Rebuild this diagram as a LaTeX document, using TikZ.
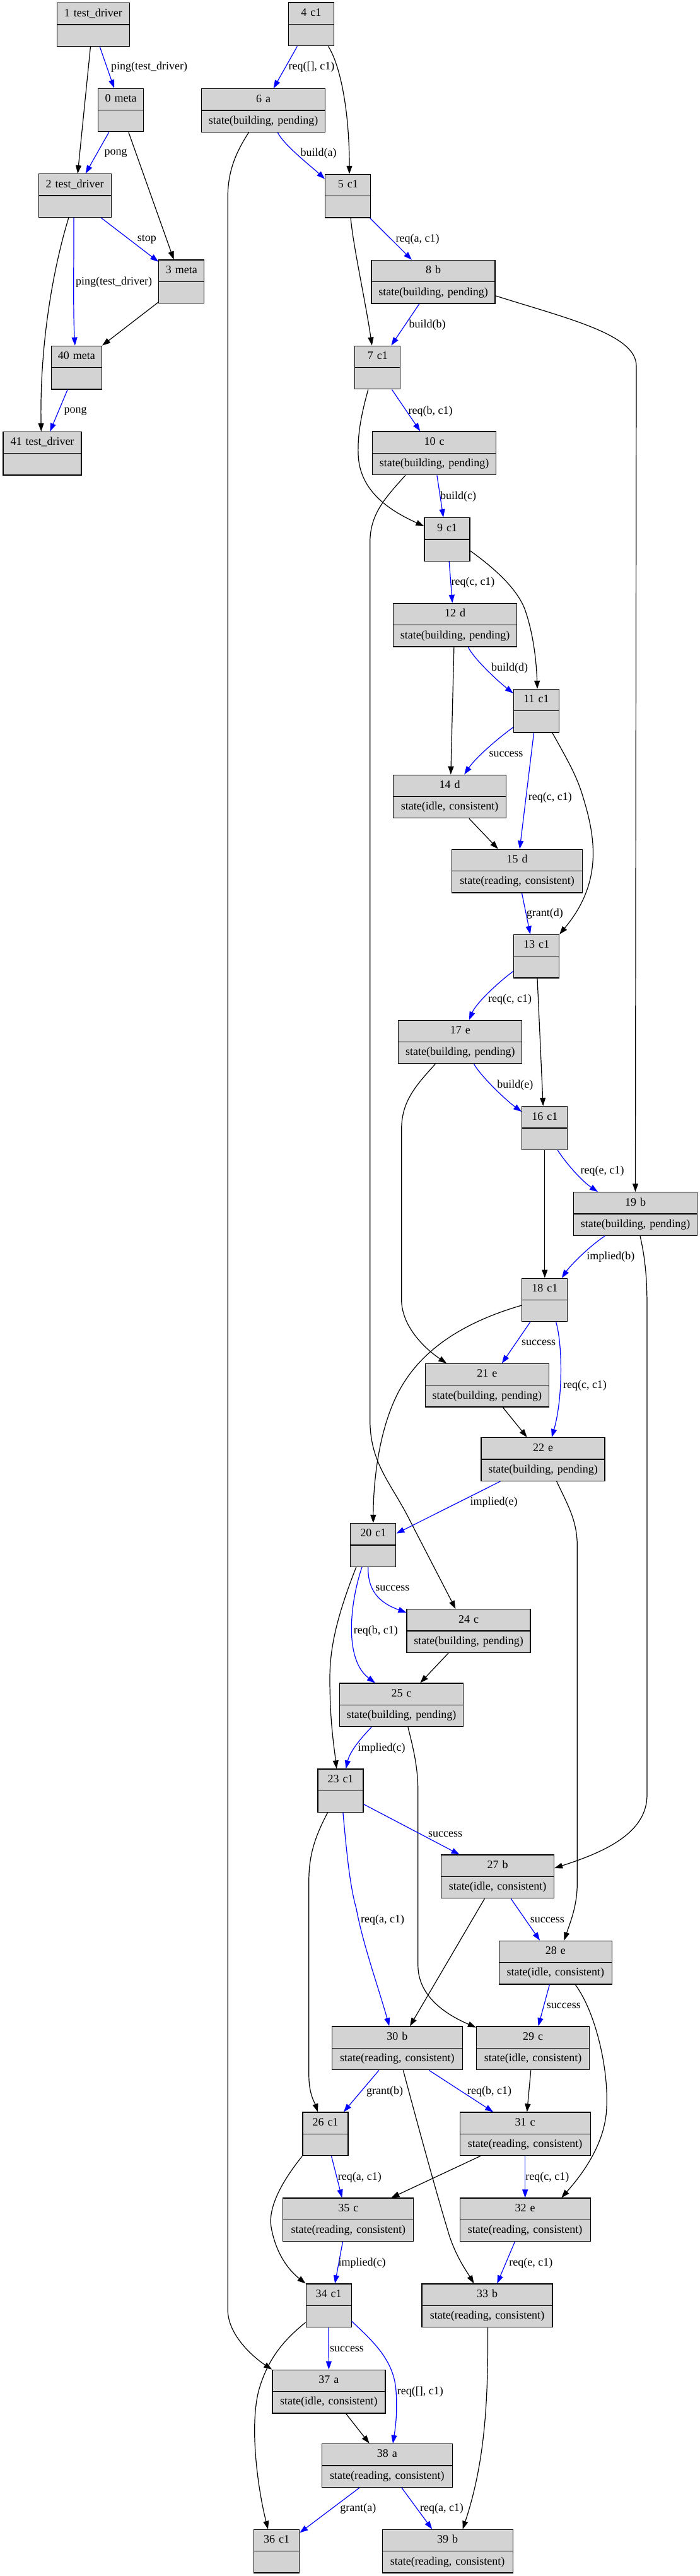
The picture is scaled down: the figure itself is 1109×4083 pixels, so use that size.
\documentclass[tikz,border=0pt]{standalone}
\usepackage{fontspec}
\setmainfont{Liberation Serif}
\usetikzlibrary{shapes.multipart,arrows.meta}
\definecolor{lgray}{HTML}{D3D3D3}
\tikzset{
  rec/.style={draw=black, line width=1.3pt, fill=lgray, rectangle split, rectangle split parts=2,
    inner xsep=0pt, inner ysep=6pt, align=center, font=\fontsize{18}{21}\selectfont},
  wc/.style={rec, text width=72pt},
  wb/.style={rec, text width=196pt},
  wi/.style={rec, text width=179pt},
  wr/.style={rec, text width=207pt},
  edk/.style={line width=1.2pt, draw=black, -{Triangle[length=13pt,width=9pt]}},
  edb/.style={edk, draw=blue},
  lbl/.style={font=\fontsize{18}{21}\selectfont, inner sep=0pt}
}
\begin{document}
\begin{tikzpicture}[x=1pt,y=-1pt]
\useasboundingbox (0,0) rectangle (1109,4083);
% ---------- left graph ----------
\node[rec, text width=115pt] (n1) at (147.8,39) {\strut 1 test\_driver\nodepart{two}\strut};
\node[wc] (n0) at (191.7,174.5) {\strut 0 meta\nodepart{two}\strut};
\node[rec, text width=115pt] (n2) at (118.7,310) {\strut 2 test\_driver\nodepart{two}\strut};
\node[wc] (n3) at (287.8,446.4) {\strut 3 meta\nodepart{two}\strut};
\node[rec, text width=80pt] (n40) at (121.4,582.6) {\strut 40 meta\nodepart{two}\strut};
\node[rec, text width=124pt] (n41) at (67,718.8) {\strut 41 test\_driver\nodepart{two}\strut};
% ---------- main graph ----------
\node[wc] (n4) at (493.4,38.4) {\strut 4 c1\nodepart{two}\strut};
\node[wb] (n6) at (417.6,175) {\strut 6 a\nodepart{two}\strut state(building, pending)};
\node[wc] (n5) at (551.8,310.7) {\strut 5 c1\nodepart{two}\strut};
\node[wb] (n8) at (687,446.8) {\strut 8 b\nodepart{two}\strut state(building, pending)};
\node[wc] (n7) at (598.8,582.5) {\strut 7 c1\nodepart{two}\strut};
\node[wb] (n10) at (688.5,718.4) {\strut 10 c\nodepart{two}\strut state(building, pending)};
\node[wc] (n9) at (709,855) {\strut 9 c1\nodepart{two}\strut};
\node[wb] (n12) at (721.7,990.7) {\strut 12 d\nodepart{two}\strut state(building, pending)};
\node[wc] (n11) at (850.5,1126.8) {\strut 11 c1\nodepart{two}\strut};
\node[wi] (n14) at (713,1262.5) {\strut 14 d\nodepart{two}\strut state(idle, consistent)};
\node[wr] (n15) at (820.1,1380.6) {\strut 15 d\nodepart{two}\strut state(reading, consistent)};
\node[wc] (n13) at (850.5,1515.8) {\strut 13 c1\nodepart{two}\strut};
\node[wb] (n17) at (729.8,1651.5) {\strut 17 e\nodepart{two}\strut state(building, pending)};
\node[wc] (n16) at (863.8,1788) {\strut 16 c1\nodepart{two}\strut};
\node[wb] (n19) at (1007.5,1924) {\strut 19 b\nodepart{two}\strut state(building, pending)};
\node[wc] (n18) at (863.8,2060.5) {\strut 18 c1\nodepart{two}\strut};
\node[wb] (n21) at (772.4,2195.8) {\strut 21 e\nodepart{two}\strut state(building, pending)};
\node[wb] (n22) at (861,2313) {\strut 22 e\nodepart{two}\strut state(building, pending)};
\node[wc] (n20) at (591.8,2448.9) {\strut 20 c1\nodepart{two}\strut};
\node[wb] (n24) at (743.1,2585) {\strut 24 c\nodepart{two}\strut state(building, pending)};
\node[wb] (n25) at (636.5,2702.4) {\strut 25 c\nodepart{two}\strut state(building, pending)};
\node[wc] (n23) at (540,2838.3) {\strut 23 c1\nodepart{two}\strut};
\node[wi] (n27) at (789,2974.4) {\strut 27 b\nodepart{two}\strut state(idle, consistent)};
\node[wi] (n28) at (880.9,3110.6) {\strut 28 e\nodepart{two}\strut state(idle, consistent)};
\node[wr] (n30) at (629.8,3246.3) {\strut 30 b\nodepart{two}\strut state(reading, consistent)};
\node[wi] (n29) at (845.1,3246.3) {\strut 29 c\nodepart{two}\strut state(idle, consistent)};
\node[wc] (n26) at (516,3382.4) {\strut 26 c1\nodepart{two}\strut};
\node[wr] (n31) at (832.7,3382.4) {\strut 31 c\nodepart{two}\strut state(reading, consistent)};
\node[wr] (n35) at (552.3,3518.4) {\strut 35 c\nodepart{two}\strut state(reading, consistent)};
\node[wr] (n32) at (832.7,3518.4) {\strut 32 e\nodepart{two}\strut state(reading, consistent)};
\node[wc] (n34) at (521.2,3654.3) {\strut 34 c1\nodepart{two}\strut};
\node[wr] (n33) at (772.5,3654.3) {\strut 33 b\nodepart{two}\strut state(reading, consistent)};
\node[wi] (n37) at (521.4,3790.6) {\strut 37 a\nodepart{two}\strut state(idle, consistent)};
\node[wr] (n38) at (613.8,3907.8) {\strut 38 a\nodepart{two}\strut state(reading, consistent)};
\node[wc] (n36) at (438.6,4043.7) {\strut 36 c1\nodepart{two}\strut};
\node[wr] (n39) at (709.7,4043.7) {\strut 39 b\nodepart{two}\strut state(reading, consistent)};
% ---------- left edges ----------
\draw[edb] ([xshift=10.4pt]n1.south) -- ([xshift=-10.7pt]n0.north);
\draw[edk] ([xshift=-4.3pt]n1.south) -- ([xshift=4.5pt]n2.north);
\draw[edb] ([xshift=-18.9pt]n0.south) -- ([xshift=17pt]n2.north);
\draw[edk] ([xshift=12.1pt]n0.south) -- ([xshift=-12.2pt]n3.north);
\draw[edb] ([xshift=41.3pt]n2.south) -- ([yshift=-3.4pt]n3.north west);
\draw[edb] ([xshift=-1.6pt]n2.south) .. controls (117,430) and (116,500) .. ([xshift=-2.5pt]n40.north);
\draw[edk] ([yshift=2.4pt]n3.south west) -- (n40.north east);
\draw[edk] ([xshift=-9.8pt]n2.south) .. controls (80,440) and (63,560) .. ([xshift=-1.7pt]n41.north);
\draw[edb] ([xshift=-14.3pt]n40.south) -- ([xshift=12.3pt]n41.north);
\node[lbl] (l1) at (236.7,106.6) {ping(test\_driver)};
\node[lbl] (l2) at (183.5,243.3) {pong};
\node[lbl] (l3) at (232.8,379) {stop};
\node[lbl] (l4) at (180.6,446.9) {ping(test\_driver)};
\node[lbl] (l5) at (119.6,651.9) {pong};
% ---------- main edges ----------
\draw[edb] ([xshift=-22pt]n4.south) -- ([xshift=16.1pt]n6.north);
\draw[edk] ([xshift=27pt]n4.south) .. controls (538,100) and (554,170) .. ([xshift=2.2pt]n5.north);
\draw[edb] ([xshift=22.7pt]n6.south) .. controls (450,230) and (495,265) .. ([yshift=-8pt]n5.north west);
\draw[edk] ([xshift=-23.2pt]n6.south) .. controls (375,240) and (361.2,270) .. (361.2,312.5) -- (361.2,3661) .. controls (361.2,3700) and (400,3735) .. (n37.north west);
\draw[edb] ([xshift=34.9pt]n5.south) -- ([xshift=-34pt]n8.north);
\draw[edk] ([xshift=4.3pt]n5.south) .. controls (560,390) and (580,480) .. ([xshift=-9pt]n7.north);
\draw[edb] ([xshift=-22.2pt]n8.south) -- ([xshift=21.6pt]n7.north);
\draw[edk] ([yshift=-22pt]n8.east) .. controls (900,505) and (1009,530) .. (1009,580) -- (n19.north);
\draw[edb] ([xshift=22.6pt]n7.south) -- ([xshift=-22.2pt]n10.north);
\draw[edk] ([xshift=-15pt]n7.south) .. controls (572,660) and (567,690) .. (568,720) .. controls (570,780) and (620,810) .. ([yshift=-14pt]n9.north west);
\draw[edb] ([xshift=4.4pt]n10.south) -- ([xshift=-6pt]n9.north);
\draw[edk] ([xshift=-45.6pt]n10.south) .. controls (610,790) and (586.7,815) .. (586.7,860) -- (586.7,2250) .. controls (586.7,2320) and (620,2350) .. (650,2410) -- ([xshift=-20.7pt]n24.north);
\draw[edb] ([xshift=3.2pt]n9.south) -- ([xshift=-4.4pt]n12.north);
\draw[edk] ([yshift=-18pt]n9.east) .. controls (790,905) and (820,935) .. (832,965) .. controls (848,1010) and (851,1060) .. ([xshift=1.5pt]n11.north);
\draw[edb] ([xshift=20.6pt]n12.south) .. controls (752,1045) and (790,1080) .. ([yshift=-7pt]n11.north west);
\draw[edk] ([xshift=-1.8pt]n12.south) -- ([xshift=1.8pt]n14.north);
\draw[edb] ([yshift=9pt]n11.south west) .. controls (790,1170) and (755,1200) .. ([xshift=23.2pt]n14.north);
\draw[edb] ([xshift=-4pt]n11.south) -- ([xshift=4pt]n15.north);
\draw[edk] ([xshift=25.5pt]n11.south) .. controls (900,1205) and (915,1230) .. (925,1265) .. controls (945,1330) and (955,1400) .. (n13.north east);
\draw[edk] ([xshift=30.9pt]n14.south) -- ([xshift=-30.3pt]n15.north);
\draw[edb] ([xshift=7.4pt]n15.south) -- ([xshift=-9.7pt]n13.north);
\draw[edb] ([yshift=-23.7pt]n13.west) .. controls (790,1557) and (755,1590) .. ([xshift=14.1pt]n17.north);
\draw[edk] ([xshift=1.5pt]n13.south) -- ([xshift=-2.6pt]n16.north);
\draw[edb] ([xshift=21.7pt]n17.south) .. controls (762,1705) and (800,1742) .. ([yshift=-9pt]n16.north west);
\draw[edk] ([xshift=-39.5pt]n17.south) .. controls (660,1720) and (636.7,1745) .. (636.7,1790) -- (636.7,2060) .. controls (636.7,2100) and (670,2135) .. ([xshift=-64.2pt]n21.north);
\draw[edb] ([xshift=20.4pt]n16.south) .. controls (895,1840) and (920,1870) .. ([xshift=-59.5pt]n19.north);
\draw[edk] (n16.south) -- (n18.north);
\draw[edb] ([xshift=-48.2pt]n19.south) .. controls (935,1975) and (905,2005) .. ([xshift=27pt]n18.north);
\draw[edk] ([xshift=7.5pt]n19.south) .. controls (1022,1990) and (1026,2020) .. (1026,2070) -- (1026,2845) .. controls (1026,2905) and (960,2935) .. ([yshift=13.4pt]n27.east);
\draw[edb] ([xshift=-23pt]n18.south) -- ([xshift=23.5pt]n21.north);
\draw[edb] ([xshift=17.8pt]n18.south) .. controls (892,2130) and (893,2215) .. ([xshift=14pt]n22.north);
\draw[edk] ([yshift=-8.5pt]n18.west) .. controls (720,2100) and (660,2150) .. (630,2210) .. controls (600,2270) and (592,2350) .. (n20.north);
\draw[edk] ([xshift=25pt]n21.south) -- ([xshift=-25.3pt]n22.north);
\draw[edb] ([xshift=-67.6pt]n22.south) -- ([yshift=18.3pt]n20.east);
\draw[edk] ([xshift=21.7pt]n22.south) .. controls (900,2385) and (915.3,2410) .. (915.3,2450) -- (915.3,2985) .. controls (915.3,3020) and (905,3045) .. ([xshift=13.5pt]n28.north);
\draw[edb] ([xshift=-8.1pt]n20.south) .. controls (583,2520) and (600,2540) .. ([yshift=-5.8pt]n24.north west);
\draw[edb] ([xshift=-17.8pt]n20.south) .. controls (555,2540) and (545,2630) .. ([xshift=-41.6pt]n25.north);
\draw[edk] ([xshift=-27pt]n20.south) .. controls (535,2560) and (523,2610) .. (523,2660) .. controls (523,2730) and (530,2770) .. ([xshift=-6.3pt]n23.north);
\draw[edk] ([xshift=-31.9pt]n24.south) -- ([xshift=29.8pt]n25.north);
\draw[edb] ([xshift=-47.2pt]n25.south) .. controls (575,2752) and (555,2775) .. ([xshift=8.5pt]n23.north);
\draw[edk] ([xshift=10.4pt]n25.south) .. controls (655,2770) and (662.8,2800) .. (662.8,2840) -- (662.8,3115) .. controls (662.8,3160) and (700,3190) .. ([yshift=-2.2pt]n29.north west);
\draw[edb] ([yshift=-21.4pt]n23.east) -- ([xshift=-60.4pt]n27.north);
\draw[edb] ([xshift=3.9pt]n23.south) .. controls (550,2940) and (555,2990) .. (565,3025) .. controls (575,3080) and (600,3150) .. ([xshift=-12.5pt]n30.north);
\draw[edk] ([xshift=-20.6pt]n23.south) .. controls (500,2910) and (489.8,2940) .. (489.8,2980) -- (489.8,3290) .. controls (489.8,3320) and (500,3335) .. ([xshift=-12pt]n26.north);
\draw[edb] ([xshift=21.2pt]n27.south) -- ([xshift=-24.8pt]n28.north);
\draw[edk] ([xshift=-20.6pt]n27.south) -- ([xshift=20.2pt]n30.north);
\draw[edb] ([xshift=-9.5pt]n28.south) -- ([xshift=8.5pt]n29.north);
\draw[edk] ([xshift=31.3pt]n28.south) .. controls (945,3190) and (965,3280) .. (962,3340) .. controls (960,3400) and (920,3450) .. ([xshift=57.6pt]n32.north);
\draw[edb] ([xshift=-28.8pt]n30.south) -- ([xshift=28.9pt]n26.north);
\draw[edb] ([xshift=50.3pt]n30.south) -- ([xshift=-50.6pt]n31.north);
\draw[edk] ([xshift=9.5pt]n30.south) .. controls (655,3340) and (690,3470) .. (713,3545) .. controls (725,3580) and (740,3600) .. ([xshift=-21pt]n33.north);
\draw[edk] ([xshift=-3.3pt]n29.south) -- ([xshift=3pt]n31.north);
\draw[edb] ([xshift=9.5pt]n26.south) -- ([xshift=-10pt]n35.north);
\draw[edk] (n26.south west) .. controls (445,3460) and (425,3500) .. (430,3530) .. controls (438,3575) and (460,3600) .. (n34.north west);
\draw[edk] ([xshift=-71pt]n31.south) -- ([xshift=68.1pt]n35.north);
\draw[edb] (n31.south) -- (n32.north);
\draw[edb] ([xshift=-8.9pt]n35.south) -- ([xshift=9.9pt]n34.north);
\draw[edb] ([xshift=-16.4pt]n32.south) -- ([xshift=15.8pt]n33.north);
\draw[edb] (n34.south) -- (n37.north);
\draw[edb] ([yshift=-24.9pt]n34.east) .. controls (590,3710) and (625,3740) .. (628,3790) .. controls (631,3830) and (625,3860) .. ([xshift=9.2pt]n38.north);
\draw[edk] ([yshift=-26.7pt]n34.west) .. controls (455,3705) and (425,3735) .. (410,3790) .. controls (395,3850) and (410,3950) .. ([xshift=-13.6pt]n36.north);
\draw[edk] ([xshift=27.1pt]n37.south) -- ([xshift=-28.1pt]n38.north);
\draw[edb] ([xshift=-43.4pt]n38.south) -- ([yshift=-5.7pt]n36.north east);
\draw[edb] ([xshift=22.9pt]n38.south) -- ([xshift=-24.5pt]n39.north);
\draw[edk] ([xshift=1pt]n33.south) .. controls (774,3800) and (770,3900) .. ([xshift=24pt]n39.north);
% ---------- main labels ----------
\node[lbl] (m1) at (494,106.6) {req([], c1)};
\node[lbl] (m2) at (505,243) {build(a)};
\node[lbl] (m3) at (662.2,379.4) {req(a, c1)};
\node[lbl] (m4) at (677.6,515.6) {build(b)};
\node[lbl] (m5) at (682.7,651.7) {req(b, c1)};
\node[lbl] (m6) at (726.5,787.1) {build(c)};
\node[lbl] (m7) at (750,923.3) {req(c, c1)};
\node[lbl] (m8) at (808.2,1059) {build(d)};
\node[lbl] (m9) at (802.5,1195.6) {success};
\node[lbl] (m10) at (872.4,1263.9) {req(c, c1)};
\node[lbl] (m11) at (863.8,1448.4) {grant(d)};
\node[lbl] (m12) at (808.7,1584.1) {req(c, c1)};
\node[lbl] (m13) at (816.8,1719.8) {build(e)};
\node[lbl] (m14) at (955.1,1856.4) {req(e, c1)};
\node[lbl] (m15) at (968.4,1992.1) {implied(b)};
\node[lbl] (m16) at (854.1,2128.4) {success};
\node[lbl] (m17) at (927.5,2196.2) {req(c, c1)};
\node[lbl] (m18) at (783.2,2381.5) {implied(e)};
\node[lbl] (m19) at (622.4,2517.7) {success};
\node[lbl] (m20) at (595.9,2585.5) {req(b, c1)};
\node[lbl] (m21) at (605.1,2771.3) {implied(c)};
\node[lbl] (m22) at (706.1,2907) {success};
\node[lbl] (m23) at (606.6,3043.2) {req(a, c1)};
\node[lbl] (m24) at (867.9,3043.2) {success};
\node[lbl] (m25) at (893.9,3179.4) {success};
\node[lbl] (m26) at (610.2,3315) {grant(b)};
\node[lbl] (m27) at (776,3315) {req(b, c1)};
\node[lbl] (m28) at (570.4,3451.4) {req(a, c1)};
\node[lbl] (m29) at (867.9,3451.4) {req(c, c1)};
\node[lbl] (m30) at (574,3587.3) {implied(c)};
\node[lbl] (m31) at (841.8,3587.3) {req(e, c1)};
\node[lbl] (m32) at (550,3723.2) {success};
\node[lbl] (m33) at (666.3,3791.2) {req([], c1)};
\node[lbl] (m34) at (567.9,3976.3) {grant(a)};
\node[lbl] (m35) at (700.5,3976.3) {req(a, c1)};
\end{tikzpicture}
\end{document}
